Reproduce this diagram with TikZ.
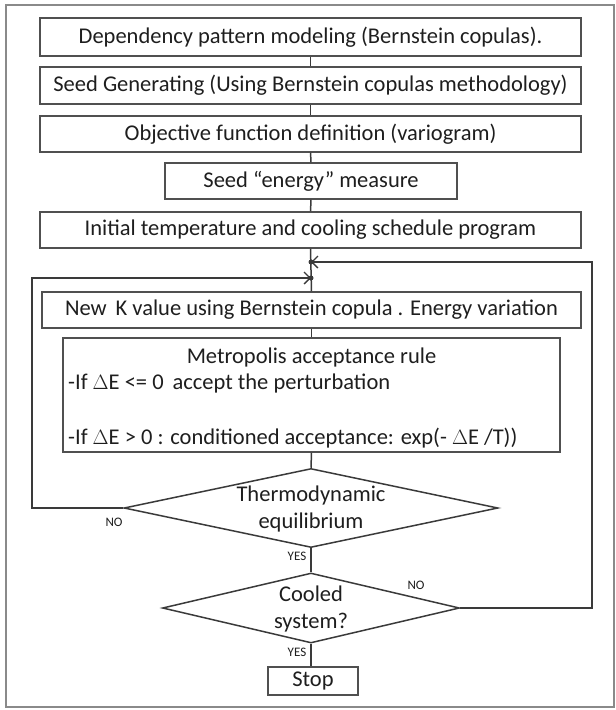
\documentclass[tikz,border=0pt]{standalone}
\usepackage{fontspec}
\setmainfont{Carlito}
\usetikzlibrary{shapes.geometric,arrows.meta}
\definecolor{linec}{HTML}{3A3A3A}
\definecolor{boxc}{HTML}{505050}
\definecolor{txt}{HTML}{1E1E1E}
\definecolor{framec}{HTML}{8A8A8A}
\begin{document}
\begin{tikzpicture}[x=1pt,y=-1pt,
  box/.style={draw=boxc, line width=1.2pt, inner sep=0pt, text=txt, font=\fontsize{22.5}{26}\selectfont},
  dec/.style={draw=linec, line width=1.5pt, diamond, inner sep=0pt},
  conn/.style={draw=linec, line width=1.5pt},
  arr/.style={conn, -{Straight Barb[length=6pt,width=12pt,line width=1.3pt]}},
  lbl/.style={text=txt, font=\fontsize{13}{15}\selectfont, inner sep=0pt},
  dtxt/.style={text=txt, font=\fontsize{22.5}{26.5}\selectfont, align=center, inner sep=0pt},
  dotc/.style={circle, fill=linec, inner sep=0pt, minimum size=5pt}]
\useasboundingbox (0,0) rectangle (616,710);
\draw[framec, line width=2pt] (6,5) rectangle (614,707);
% boxes
\node[box, minimum width=541pt, minimum height=38pt] (b1) at (310.5,37) {Dependency pattern modeling (Bernstein copulas).};
\node[box, minimum width=541pt, minimum height=37pt] (b2) at (310.5,85.5) {Seed Generating (Using Bernstein copulas methodology)};
\node[box, minimum width=541pt, minimum height=36pt] (b3) at (310.5,134) {Objective function definition (variogram)};
\node[box, minimum width=292pt, minimum height=36pt] (b4) at (311,181) {Seed “energy” measure};
\node[box, minimum width=541pt, minimum height=36pt] (b5) at (310.5,230) {Initial temperature and cooling schedule program};
\node[box, minimum width=539pt, minimum height=36pt] (b6) at (311.5,310) {New\, K value using Bernstein copula . Energy variation};
\node[box, minimum width=497pt, minimum height=114pt] (b7) at (311.5,395) {};
\node[dtxt] (m1) at (311.5,357) {Metropolis acceptance rule};
\node[dtxt, anchor=west] (m2) at (68,383) {-If $\Delta$E <= 0\, accept the perturbation};
\node[dtxt, anchor=west] (m3) at (68,438) {-If $\Delta$E > 0 : conditioned acceptance: exp(- $\Delta$E /T))};
% decisions
\node[dec, minimum width=374pt, minimum height=79pt] (d1) at (311,508) {};
\node[dtxt] (t1) at (311,509) {Thermodynamic\\equilibrium};
\node[dec, minimum width=297pt, minimum height=70pt] (d2) at (311,608) {};
\node[dtxt] (t2) at (311,609) {Cooled\\system?};
\node[box, minimum width=90pt, minimum height=28pt] (stop) at (313,681) {Stop};
% dots and loop corners
\node[dotc] (dr) at (311,262) {};
\node[dotc] (dl) at (311,278) {};
\coordinate (lb) at (32,508);
\coordinate (lt) at (32,278);
\coordinate (rb) at (592,608);
\coordinate (rt) at (592,262);
% connectors
\draw[conn] (b1) -- (b2);
\draw[conn] (b2) -- (b3);
\draw[conn] (b3) -- (b4);
\draw[conn] (b4) -- (b5);
\draw[conn] (b5.south) -- (b6.north);
\draw[conn] (b6) -- (b7);
\draw[conn] (b7.south) -- (d1.north);
\draw[conn] (d1.south) -- (d2.north);
\draw[conn] (d2.south) -- (stop.north -| d2.south);
\draw[arr] (d1.west) -- (lb) -- (lt) -- (dl.center);
\draw[arr] (d2.east) -- (rb) -- (rt) -- (dr.center);
% labels
\node[lbl] (no1) at (114,522) {NO};
\node[lbl] (yes1) at (297,556) {YES};
\node[lbl] (no2) at (416,585) {NO};
\node[lbl] (yes2) at (297,652) {YES};
\end{tikzpicture}
\end{document}
